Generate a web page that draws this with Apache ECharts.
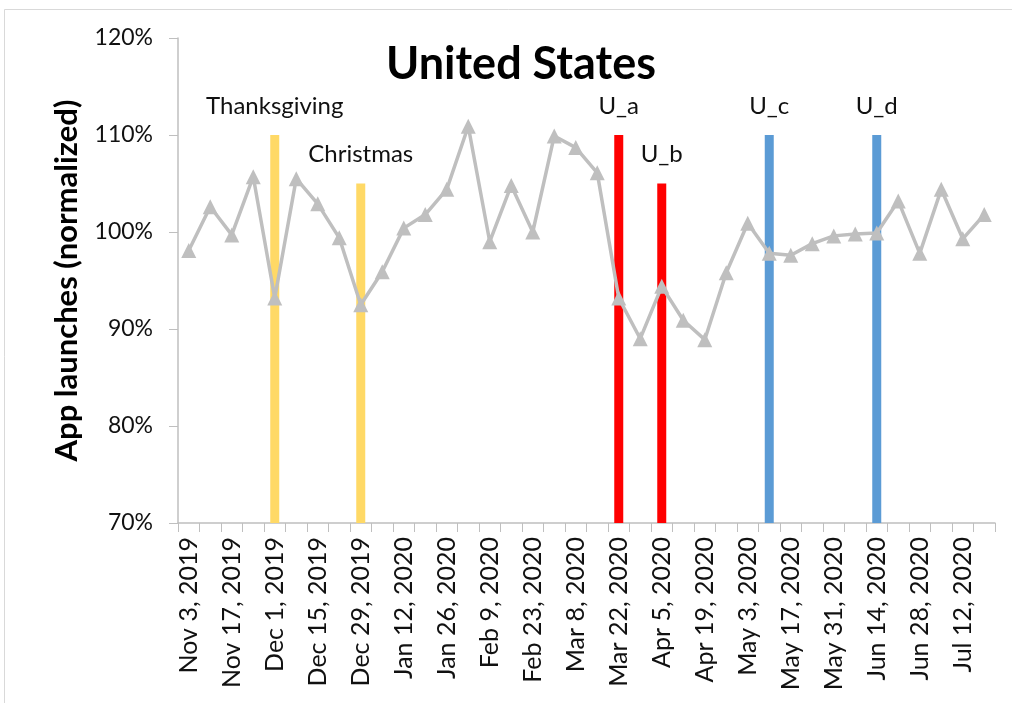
<!DOCTYPE html>
<html>
<head>
<meta charset="utf-8">
<script src="https://cdn.jsdelivr.net/npm/echarts@6/dist/echarts.min.js"></script>
<style>
  html, body { margin: 0; padding: 0; background: #fff; }
  #chart { width: 1012px; height: 703px; }
</style>
</head>
<body>
<div id="chart"></div>
<script>
// Weekly app launches, normalized to the baseline period (percent)
const weeks = [
  'Nov 3, 2019', 'Nov 10, 2019', 'Nov 17, 2019', 'Nov 24, 2019',
  'Dec 1, 2019', 'Dec 8, 2019', 'Dec 15, 2019', 'Dec 22, 2019', 'Dec 29, 2019',
  'Jan 5, 2020', 'Jan 12, 2020', 'Jan 19, 2020', 'Jan 26, 2020',
  'Feb 2, 2020', 'Feb 9, 2020', 'Feb 16, 2020', 'Feb 23, 2020',
  'Mar 1, 2020', 'Mar 8, 2020', 'Mar 15, 2020', 'Mar 22, 2020', 'Mar 29, 2020',
  'Apr 5, 2020', 'Apr 12, 2020', 'Apr 19, 2020', 'Apr 26, 2020',
  'May 3, 2020', 'May 10, 2020', 'May 17, 2020', 'May 24, 2020', 'May 31, 2020',
  'Jun 7, 2020', 'Jun 14, 2020', 'Jun 21, 2020', 'Jun 28, 2020',
  'Jul 5, 2020', 'Jul 12, 2020', 'Jul 19, 2020'
];

const launches = [
  98.1, 102.6, 99.7, 105.7, 93.2, 105.5, 102.9, 99.4, 92.5,
  95.9, 100.4, 101.8, 104.4, 110.9, 99.0, 104.8, 100.0,
  109.9, 108.7, 106.1, 93.2, 89.0, 94.4, 90.9, 88.9, 95.8,
  100.9, 97.8, 97.6, 98.8, 99.6, 99.8, 99.9, 103.2, 97.8,
  104.4, 99.3, 101.8
];

// Event markers: label, week it falls on, bar height (percent)
const eventNames = ['Thanksgiving', 'Christmas', 'U_a', 'U_b', 'U_c', 'U_d'];
const eventWeeks = ['Dec 1, 2019', 'Dec 29, 2019', 'Mar 22, 2020', 'Apr 5, 2020', 'May 10, 2020', 'Jun 14, 2020'];
const eventHeights = [110, 105, 110, 105, 110, 110];

const yTicks = [70, 80, 90, 100, 110, 120];

const eventColor = {
  'Thanksgiving': '#FFD966', 'Christmas': '#FFD966',
  'U_a': '#FF0000', 'U_b': '#FF0000',
  'U_c': '#5B9BD5', 'U_d': '#5B9BD5'
};

const FONT = 'Lato, "Noto Sans", sans-serif';

const eventBars = weeks.map(function (w) {
  const i = eventWeeks.indexOf(w);
  if (i < 0) return '-';
  return {
    value: eventHeights[i],
    name: eventNames[i],
    itemStyle: { color: eventColor[eventNames[i]] }
  };
});

const chart = echarts.init(document.getElementById('chart'), null, { renderer: 'canvas' });

chart.setOption({
  backgroundColor: '#ffffff',
  animation: false,
  title: {
    text: 'United States',
    left: 516,
    textAlign: 'center',
    top: 37,
    textStyle: { fontFamily: FONT, fontWeight: 'bold', fontSize: 45, color: '#000' }
  },
  graphic: [{
    type: 'rect',
    shape: { x: 4.5, y: 9.5, width: 1100, height: 800 },
    style: { fill: 'none', stroke: '#d9d9d9', lineWidth: 1 },
    silent: true
  }],
  grid: { left: 178, right: 17, top: 38, bottom: 180, containLabel: false },
  xAxis: {
    type: 'category',
    data: weeks,
    boundaryGap: true,
    axisLine: { lineStyle: { color: '#bfbfbf', width: 1.5 } },
    axisTick: { show: true, interval: 0, length: 9, lineStyle: { color: '#bfbfbf' } },
    axisLabel: {
      interval: 1,
      rotate: 90,
      margin: 14,
      fontFamily: FONT,
      fontSize: 25,
      color: '#111'
    },
    splitLine: { show: false }
  },
  yAxis: {
    type: 'value',
    min: yTicks[0],
    max: yTicks[yTicks.length - 1],
    interval: 10,
    name: 'App launches (normalized)',
    nameLocation: 'middle',
    nameRotate: 90,
    nameGap: 96,
    nameTextStyle: { fontFamily: FONT, fontWeight: 'bold', fontSize: 31, color: '#000' },
    axisLine: { show: true, lineStyle: { color: '#bfbfbf', width: 1.5 } },
    axisTick: { show: true, length: 9, lineStyle: { color: '#bfbfbf' } },
    axisLabel: {
      formatter: '{value}%',
      margin: 25,
      fontFamily: FONT,
      fontSize: 23,
      color: '#111'
    },
    splitLine: { show: false }
  },
  series: [
    {
      type: 'bar',
      data: eventBars,
      barWidth: 9,
      barGap: '-100%',
      z: 1,
      label: {
        show: true,
        position: 'top',
        distance: 17,
        formatter: function (p) { return p.name; },
        fontFamily: FONT,
        fontSize: 24,
        color: '#111'
      }
    },
    {
      type: 'line',
      data: launches,
      z: 3,
      symbol: 'triangle',
      symbolSize: 15,
      showAllSymbol: true,
      lineStyle: { color: '#BFBFBF', width: 3.5 },
      itemStyle: { color: '#BFBFBF' }
    }
  ]
});
</script>
</body>
</html>
